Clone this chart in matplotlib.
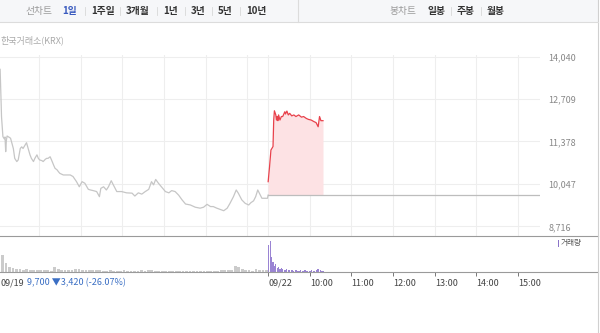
import matplotlib
matplotlib.use("Agg")
import matplotlib.pyplot as plt
from matplotlib.lines import Line2D
from matplotlib.patches import Rectangle
import numpy as np

plt.rcParams['font.family'] = ['Noto Sans CJK KR', 'DejaVu Sans']

# ---------------- data ----------------
# day 1 (09/19): minutes since 09:00, price (KRW)
d1_min = [0, 4, 5, 6, 8, 10, 11, 12, 13, 14, 17, 19, 21, 23, 25, 28, 30, 33, 35, 37, 40, 42, 45, 47,
          49, 52, 54, 57, 59, 61, 64, 66, 69, 71, 73, 76, 78, 81, 83, 86, 88, 90, 95, 100, 105, 109,
          114, 118, 122, 126, 131, 134, 138, 143, 147, 149, 153, 157, 160, 164, 167, 172, 179, 186,
          194, 198, 203, 208, 213, 218, 222, 225, 228, 232, 237, 242, 247, 251, 256, 261, 266, 271,
          278, 285, 292, 297, 302, 307, 311, 316, 321, 326, 331, 335, 340, 344, 347, 352, 357, 362,
          365, 369, 372, 375, 378, 381, 386, 389, 390]
d1_price = [13700, 13640, 12900, 12150, 11530, 11460, 11520, 11060, 11420, 11550, 11510, 11480, 11320,
            11160, 10850, 10750, 10800, 11160, 11210, 11160, 11270, 11340, 11110, 10960, 10850, 10750,
            10850, 10960, 10850, 10800, 10780, 10750, 10820, 10850, 10850, 10900, 10800, 10640, 10540,
            10490, 10430, 10380, 10330, 10330, 10330, 10280, 10120, 9960, 10120, 10070, 9880, 9860,
            9840, 9810, 9650, 9910, 9960, 9860, 9960, 10150, 10020, 9810, 9810, 9770, 9760, 9670,
            9770, 9730, 9810, 9880, 10120, 10020, 10190, 10070, 9940, 9810, 9770, 9840, 9810, 9700,
            9550, 9420, 9390, 9320, 9290, 9320, 9410, 9340, 9340, 9290, 9250, 9210, 9290, 9440, 9650,
            9860, 9760, 9550, 9440, 9390, 9460, 9520, 9650, 9860, 9730, 9600, 9600, 9600, 9700]

# day 2 (09/22): minutes since 09:00, price
d2_min = [0, 2, 4, 7, 8, 9, 11, 12, 13, 14, 15, 17, 19, 21, 24, 25, 27, 29, 31, 34, 37, 40, 44, 48,
          51, 55, 58, 62, 66, 69, 72, 74, 76, 79]
d2_price = [10120, 10590, 11110, 11220, 12050, 12340, 12210, 12050, 12160, 12030, 12210, 12050, 12160,
            12160, 12310, 12240, 12330, 12210, 12260, 12180, 12210, 12160, 12210, 12140, 12160, 12100,
            12070, 12050, 12000, 11970, 11840, 12160, 12030, 12030]
prev_close = 9700

# volume (thousand shares): day1 in 5-minute bins, day2 in 2-minute bins
d1_vol = [400, 340, 180, 100, 80, 60, 60, 40, 60, 40, 40, 40, 40, 40, 40, 20, 100, 60, 40, 40,
          40, 40, 60, 60, 40, 40, 40, 40, 40, 40, 20, 20, 40, 20, 20, 20, 40, 20, 20, 20,
          20, 40, 20, 40, 40, 20, 20, 20, 20, 20, 20, 20, 20, 20, 20, 20, 20, 20, 20, 20,
          20, 20, 20, 20, 40, 40, 40, 40, 120, 100, 60, 40, 40, 20, 60, 40, 40, 40]
d2_vol = [540, 620, 300, 200, 120, 160, 80, 100, 60, 80, 60, 40, 40, 60, 40, 40, 40, 40, 20, 40,
          40, 20, 20, 40, 20, 20, 40, 20, 20, 20, 20, 40, 20, 20, 40, 60, 60, 40, 20, 20]

price_ticks = [8716, 10047, 11378, 12709, 14040]
time_ticks = [390, 450, 510, 570, 630, 690, 750]
time_labels = ['09/22', '10:00', '11:00', '12:00', '13:00', '14:00', '15:00']
grid_minutes = [60, 120, 180, 240, 300, 360, 390, 450, 510, 570, 630, 690, 750]
tabs_left = ['1일', '1주일', '3개월', '1년', '3년', '5년', '10년']
tabs_right = ['일봉', '주봉', '월봉']

# ---------------- figure ----------------
W, H = 600, 333
fig = plt.figure(figsize=(W / 100, H / 100), dpi=100)
fig.patch.set_facecolor('white')


def fx(px):
    return px / W


def fy(py):
    return 1 - py / H


XL = (3.8, 781.5)
GRID = '#eeeeee'

# price axes
axp = fig.add_axes([0, fy(235.5), fx(540), fy(55) - fy(235.5)])
axp.set_xlim(*XL)
axp.set_ylim(8434, 14087)
for s in axp.spines.values():
    s.set_visible(False)
axp.set_xticks(grid_minutes)
axp.tick_params(axis='x', length=0, labelbottom=False)
axp.grid(True, axis='x', color=GRID, lw=0.8)
axp.set_yticks(price_ticks)
axp.set_yticklabels([f'{v:,}' for v in price_ticks])
axp.yaxis.tick_right()
axp.tick_params(axis='y', length=0, pad=6, labelsize=6.5, labelcolor='#888888')
axp.grid(True, axis='y', color=GRID, lw=0.8)
axp.set_axisbelow(True)

d1x = np.array(d1_min)
d2x = np.array(d2_min) + 390
axp.plot(d1x, d1_price, color='#c6c6c6', lw=0.9, zorder=3)
axp.plot([390, 780], [prev_close, prev_close], color='#bdbdbd', lw=0.9, zorder=3)
axp.fill_between(d2x, d2_price, prev_close, color='#fde2e4', lw=0, zorder=2)
axp.plot(d2x, d2_price, color='#e8414b', lw=0.9, zorder=4)

# volume axes
axv = fig.add_axes([0, fy(272), fx(540), fy(236) - fy(272)])
axv.set_xlim(*XL)
axv.set_ylim(0, 720)
for s in axv.spines.values():
    s.set_visible(False)
axv.set_yticks([])
d1c = np.arange(len(d1_vol)) * 5 + 2.5
d2c = np.arange(len(d2_vol)) * 2 + 391
axv.bar(d1c, d1_vol, width=4, color='#cbcbcb', lw=0)
axv.bar(d2c, d2_vol, width=1.6, color='#9a84d3', lw=0)
axv.set_xticks(time_ticks)
axv.set_xticklabels(time_labels)
axv.tick_params(axis='x', direction='out', length=3, width=0.7, color='#777777',
                labelsize=6.5, labelcolor='#444444', pad=2)
for lab in axv.get_xticklabels():
    lab.set_horizontalalignment('left')

# day1 label + change info
fig.text(fx(0.5), fy(283), '09/19', fontsize=6.5, color='#444444', va='center', ha='left')
fig.text(fx(27), fy(283), f'{prev_close:,} ▼3,420 (-26.07%)', fontsize=6.5, color='#3b6fc4',
         va='center', ha='left', family=['Noto Sans CJK KR', 'DejaVu Sans'])

# frame lines
fig.add_artist(Line2D([0, fx(598)], [fy(235.8), fy(235.8)], color='#9a9a9a', lw=0.8))
fig.add_artist(Line2D([0, fx(598)], [fy(272), fy(272)], color='#9a9a9a', lw=0.8))
fig.add_artist(Line2D([fx(597.5), fx(597.5)], [0, 1], color='#d0d0d0', lw=0.8))

# volume legend
fig.add_artist(Rectangle((fx(557.5), fy(247)), fx(1.6), fy(240) - fy(247), color='#8a74c8', lw=0))
fig.text(fx(561), fy(243.5), '거래량', fontsize=5.5, color='#555555', va='center', ha='left')

# toolbar
fig.add_artist(Rectangle((0, fy(22)), fx(598), 22 / H, color='#f6f7f9', lw=0, zorder=0))
fig.add_artist(Line2D([0, fx(598)], [fy(22), fy(22)], color='#dcdcdc', lw=0.8))
fig.add_artist(Line2D([fx(298), fx(298)], [fy(22), 1], color='#dcdcdc', lw=0.8))
ty = fy(11)
FS = 7
fig.text(fx(25), ty, '선차트', fontsize=FS, color='#9a9a9a', va='center', ha='left')
left_pos = [62, 91, 126, 163, 191, 218, 246]
for i, (t, x) in enumerate(zip(tabs_left, left_pos)):
    fig.text(fx(x), ty, t, fontsize=FS, fontweight='bold',
             color='#3a5bbf' if i == 0 else '#333333', va='center', ha='left')
    if i > 0:
        fig.add_artist(Line2D([fx(x - 6), fx(x - 6)], [fy(15), fy(7)], color='#d8d8d8', lw=0.6))
fig.text(fx(389), ty, '봉차트', fontsize=FS, color='#9a9a9a', va='center', ha='left')
right_pos = [427, 457, 487]
for i, (t, x) in enumerate(zip(tabs_right, right_pos)):
    fig.text(fx(x), ty, t, fontsize=FS, fontweight='bold', color='#333333', va='center', ha='left')
    if i > 0:
        fig.add_artist(Line2D([fx(x - 6), fx(x - 6)], [fy(15), fy(7)], color='#d8d8d8', lw=0.6))

fig.text(fx(0.5), fy(40), '한국거래소(KRX)', fontsize=6.5, color='#aaaaaa', va='center', ha='left')

fig.savefig('out.png', dpi=100, facecolor='white')
